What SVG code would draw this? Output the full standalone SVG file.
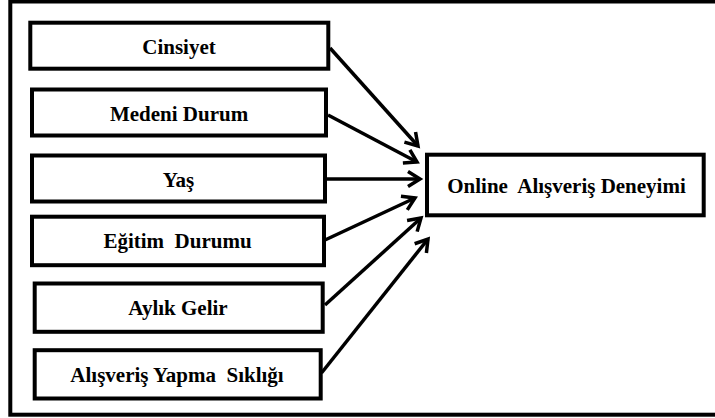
<svg xmlns="http://www.w3.org/2000/svg" width="715" height="418" viewBox="0 0 715 418">
<style>
.box{fill:#fff;stroke:#000;stroke-width:4}
.lbl{font-family:'Liberation Serif','Times New Roman',serif;font-weight:700;font-size:21px;fill:#000;text-anchor:middle}
.conn{stroke:#000;stroke-width:3.5;fill:none}
</style>
<defs>
<marker id="ah" markerUnits="userSpaceOnUse" viewBox="-15 -10 17 20" refX="0" refY="0" markerWidth="17" markerHeight="20" orient="auto" overflow="visible">
<path d="M-12,-7.5 L0,0 L-12,7.5" fill="none" stroke="#000" stroke-width="3.5" stroke-linejoin="miter"/>
</marker>
</defs>
<rect id="frame" x="10.3" y="1.5" width="720" height="413.2" fill="#fff" stroke="#000" stroke-width="4"/>
<g id="connectors">
<line class="conn" x1="330" y1="48" x2="418" y2="146" marker-end="url(#ah)"/>
<line class="conn" x1="328" y1="115" x2="417" y2="162" marker-end="url(#ah)"/>
<line class="conn" x1="326" y1="179" x2="420" y2="179" marker-end="url(#ah)"/>
<line class="conn" x1="325" y1="240" x2="415" y2="198" marker-end="url(#ah)"/>
<line class="conn" x1="325" y1="305" x2="421" y2="218" marker-end="url(#ah)"/>
<line class="conn" x1="321.5" y1="373" x2="428" y2="239" marker-end="url(#ah)"/>
</g>
<g id="n1"><rect class="box" x="30.3" y="22.7" width="298" height="46"/><text class="lbl" x="179" y="54">Cinsiyet</text></g>
<g id="n2"><rect class="box" x="32" y="89.5" width="294" height="46"/><text class="lbl" x="179" y="120.5">Medeni Durum</text></g>
<g id="n3"><rect class="box" x="32" y="155.5" width="293" height="46"/><text class="lbl" x="178.5" y="186.5">Yaş</text></g>
<g id="n4"><rect class="box" x="32" y="216.7" width="292" height="48.5"/><text class="lbl" x="177.5" y="248" xml:space="preserve">Eğitim  Durumu</text></g>
<g id="n5"><rect class="box" x="34.7" y="283.5" width="288" height="48.3"/><text class="lbl" x="178" y="315">Aylık Gelir</text></g>
<g id="n6"><rect class="box" x="34.7" y="350.2" width="286" height="48.3"/><text class="lbl" x="177" y="382" xml:space="preserve">Alışveriş Yapma  Sıklığı</text></g>
<g id="target"><rect class="box" x="427" y="154.7" width="276.7" height="60.6"/><text class="lbl" x="566.5" y="193" xml:space="preserve">Online  Alışveriş Deneyimi</text></g>
</svg>
